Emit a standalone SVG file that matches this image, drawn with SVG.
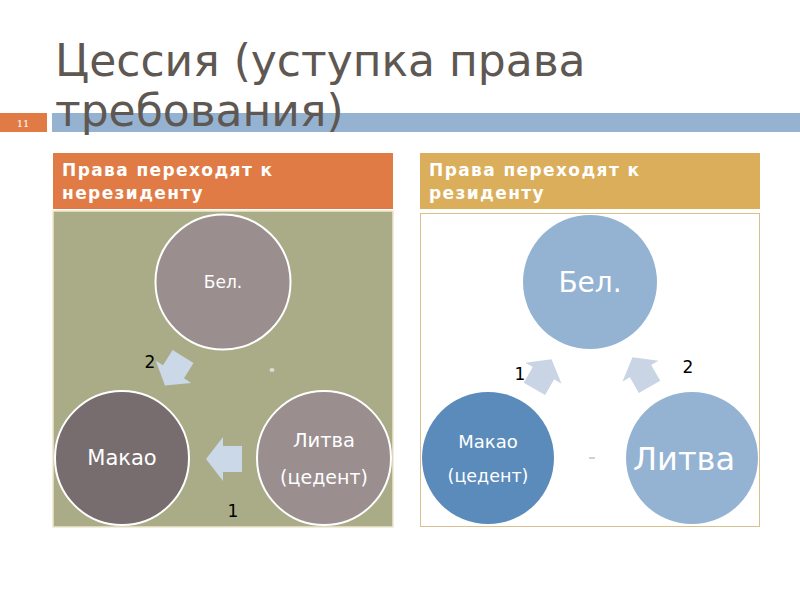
<svg xmlns="http://www.w3.org/2000/svg" width="800" height="600" viewBox="0 0 800 600">
<defs>
<style>
.title{font-family:"DejaVu Sans",sans-serif;font-size:44px;fill:#5e5752}
.hdr{font-family:"DejaVu Sans",sans-serif;font-size:17px;font-weight:bold;fill:#ffffff;letter-spacing:1.4px}
.lbl{font-family:"DejaVu Sans","Open Sans",sans-serif;fill:#ffffff;text-anchor:middle}
.num{font-family:"DejaVu Sans",sans-serif;font-size:17px;fill:#000000;text-anchor:middle}
.arrow{fill:#cad8e8}
.arrowR{fill:#c9d5e4}
</style>
<polygon id="arr" points="-18,-13 1,-13 1,-22 18,0 1,22 1,13 -18,13"/>
</defs>
<rect width="800" height="600" fill="#ffffff"/>
<rect x="0" y="113" width="47" height="19" fill="#e07b45"/>
<text x="23" y="127" font-family="DejaVu Serif,serif" font-size="10" fill="#ffffff" text-anchor="middle">11</text>
<rect x="52" y="113" width="748" height="19" fill="#95b3d0"/>
<text class="title" x="55" y="76">Цессия (уступка права</text>
<text class="title" x="55" y="126">требования)</text>

<g id="left-header">
<rect x="53" y="153" width="340" height="56" fill="#e07b45"/>
<text class="hdr" x="62" y="176">Права переходят к</text>
<text class="hdr" x="62" y="199">нерезиденту</text>
</g>
<rect x="53" y="211" width="340" height="316" fill="#a9ac86" stroke="#efe6cf" stroke-width="1.5"/>

<g id="right-header">
<rect x="420" y="153" width="340" height="56" fill="#dbae5c"/>
<text class="hdr" x="429" y="176">Права переходят к</text>
<text class="hdr" x="429" y="199">резиденту</text>
</g>
<rect x="420.5" y="213.5" width="339" height="313" fill="#ffffff" stroke="#d8c08e" stroke-width="1"/>

<g id="connectors">
<use href="#arr" class="arrow" transform="translate(224,459) rotate(180)"/>
<use href="#arr" class="arrow" transform="translate(174,371) rotate(122) scale(0.95)"/>
<use href="#arr" class="arrowR" transform="translate(543,374) rotate(-60) scale(0.95)"/>
<use href="#arr" class="arrowR" transform="translate(641,372) rotate(-120) scale(0.95)"/>
<ellipse cx="272" cy="370" rx="2.5" ry="2" fill="#d8dcd0"/>
<rect x="589" y="457" width="6" height="2" fill="#c8d2e0"/>
</g>
<text class="num" x="150" y="368">2</text>
<text class="num" x="233" y="517">1</text>
<text class="num" x="520" y="380">1</text>
<text class="num" x="688" y="373">2</text>

<g id="left-bel">
<circle cx="223" cy="282" r="67.5" fill="#9a8e8f" stroke="#ffffff" stroke-width="2"/>
<text class="lbl" x="223" y="288" font-size="17">Бел.</text>
</g>
<g id="left-makao">
<circle cx="122" cy="458" r="67" fill="#786d6e" stroke="#ffffff" stroke-width="2"/>
<text class="lbl" x="122" y="465" font-size="21">Макао</text>
</g>
<g id="left-litva">
<circle cx="324" cy="458" r="67" fill="#9a8e8f" stroke="#ffffff" stroke-width="2"/>
<text class="lbl" x="324" y="447" font-size="19.5">Литва</text>
<text class="lbl" x="324" y="484" font-size="19">(цедент)</text>
</g>

<g id="right-bel">
<circle cx="590" cy="282" r="67" fill="#94b3d3"/>
<text class="lbl" x="590" y="292" font-size="28">Бел.</text>
</g>
<g id="right-makao">
<circle cx="488" cy="458" r="66" fill="#5b8bbb"/>
<text class="lbl" x="488" y="448" font-size="18">Макао</text>
<text class="lbl" x="488" y="482" font-size="17.5">(цедент)</text>
</g>
<g id="right-litva">
<circle cx="692" cy="458" r="66" fill="#94b3d3"/>
<text class="lbl" x="684" y="470" font-size="32">Литва</text>
</g>
</svg>
